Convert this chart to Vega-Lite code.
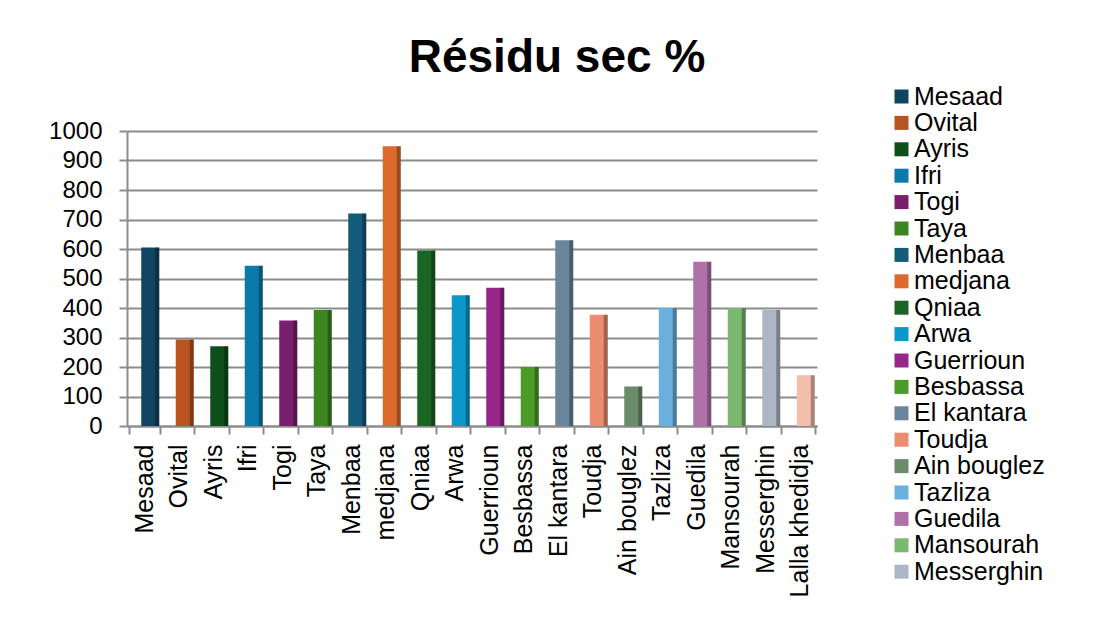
{
  "$schema": "https://vega.github.io/schema/vega-lite/v6.json",
  "width": 690,
  "height": 295,
  "autosize": {"type": "none"},
  "padding": {"left": 127, "top": 131, "right": 277, "bottom": 199},
  "background": "white",
  "title": {
    "text": "Résidu sec %",
    "font": "Liberation Sans",
    "fontSize": 46,
    "fontWeight": "bold",
    "color": "black",
    "anchor": "middle",
    "dx": 85,
    "offset": 2
  },
  "data": {
    "values": [
      {"site": "Mesaad", "value": 605},
      {"site": "Ovital", "value": 293},
      {"site": "Ayris", "value": 270},
      {"site": "Ifri", "value": 543},
      {"site": "Togi", "value": 358},
      {"site": "Taya", "value": 393},
      {"site": "Menbaa", "value": 720},
      {"site": "medjana", "value": 948},
      {"site": "Qniaa", "value": 595},
      {"site": "Arwa", "value": 443},
      {"site": "Guerrioun", "value": 469},
      {"site": "Besbassa", "value": 200},
      {"site": "El kantara", "value": 630},
      {"site": "Toudja", "value": 377},
      {"site": "Ain bouglez", "value": 134},
      {"site": "Tazliza", "value": 400},
      {"site": "Guedila", "value": 557},
      {"site": "Mansourah", "value": 400},
      {"site": "Messerghin", "value": 393},
      {"site": "Lalla khedidja", "value": 172}
    ]
  },
  "encoding": {
    "x": {
      "field": "site",
      "type": "nominal",
      "sort": null,
      "title": null,
      "axis": {
        "labelAngle": -90,
        "labelAlign": "right",
        "labelBaseline": "middle",
        "labelFont": "Liberation Sans",
        "labelFontSize": 25,
        "labelColor": "black",
        "labelPadding": 10,
        "ticks": true,
        "tickBand": "extent",
        "tickSize": 8,
        "tickWidth": 2,
        "tickColor": "#8c8c8c",
        "domainColor": "#8c8c8c",
        "domainWidth": 2
      }
    },
    "y": {
      "field": "value",
      "type": "quantitative",
      "title": null,
      "scale": {"domain": [0, 1000]},
      "axis": {
        "values": [0, 100, 200, 300, 400, 500, 600, 700, 800, 900, 1000],
        "format": "d",
        "labelFont": "Liberation Sans",
        "labelFontSize": 24,
        "labelColor": "black",
        "labelPadding": 17,
        "tickColor": "#8c8c8c",
        "tickSize": 8,
        "tickWidth": 2,
        "domainColor": "#8c8c8c",
        "domainWidth": 2,
        "gridColor": "#8c8c8c",
        "gridWidth": 2
      }
    }
  },
  "layer": [
    {
      "mark": {"type": "bar", "size": 18, "xOffset": 6},
      "encoding": {
        "color": {
          "field": "site",
          "type": "nominal",
          "scale": {
            "domain": ["Mesaad", "Ovital", "Ayris", "Ifri", "Togi", "Taya", "Menbaa", "medjana", "Qniaa", "Arwa", "Guerrioun", "Besbassa", "El kantara", "Toudja", "Ain bouglez", "Tazliza", "Guedila", "Mansourah", "Messerghin", "Lalla khedidja"],
            "range": ["#10455F", "#B85420", "#0F4F1C", "#0A7AA8", "#7A1E6E", "#3C8521", "#145A7B", "#DD6A2D", "#1A6424", "#0C97CB", "#962688", "#4A9B28", "#6B869C", "#EB8D6F", "#6B8C6B", "#6AB0DE", "#B070A8", "#7DB870", "#ADB6C4", "#F2BEAD"]
          },
          "legend": {
            "title": null,
            "orient": "none",
            "legendX": 762,
            "legendY": -47,
            "values": ["Mesaad", "Ovital", "Ayris", "Ifri", "Togi", "Taya", "Menbaa", "medjana", "Qniaa", "Arwa", "Guerrioun", "Besbassa", "El kantara", "Toudja", "Ain bouglez", "Tazliza", "Guedila", "Mansourah", "Messerghin"],
            "symbolType": "square",
            "symbolSize": 196,
            "symbolStrokeWidth": 0,
            "symbolOpacity": 1,
            "labelFont": "Liberation Sans",
            "labelFontSize": 25,
            "labelColor": "black",
            "labelOffset": 0,
            "rowPadding": 0.4
          }
        }
      }
    },
    {
      "mark": {"type": "bar", "size": 4, "xOffset": 13, "color": "black", "opacity": 0.3}
    }
  ],
  "config": {
    "view": {"stroke": null}
  }
}
